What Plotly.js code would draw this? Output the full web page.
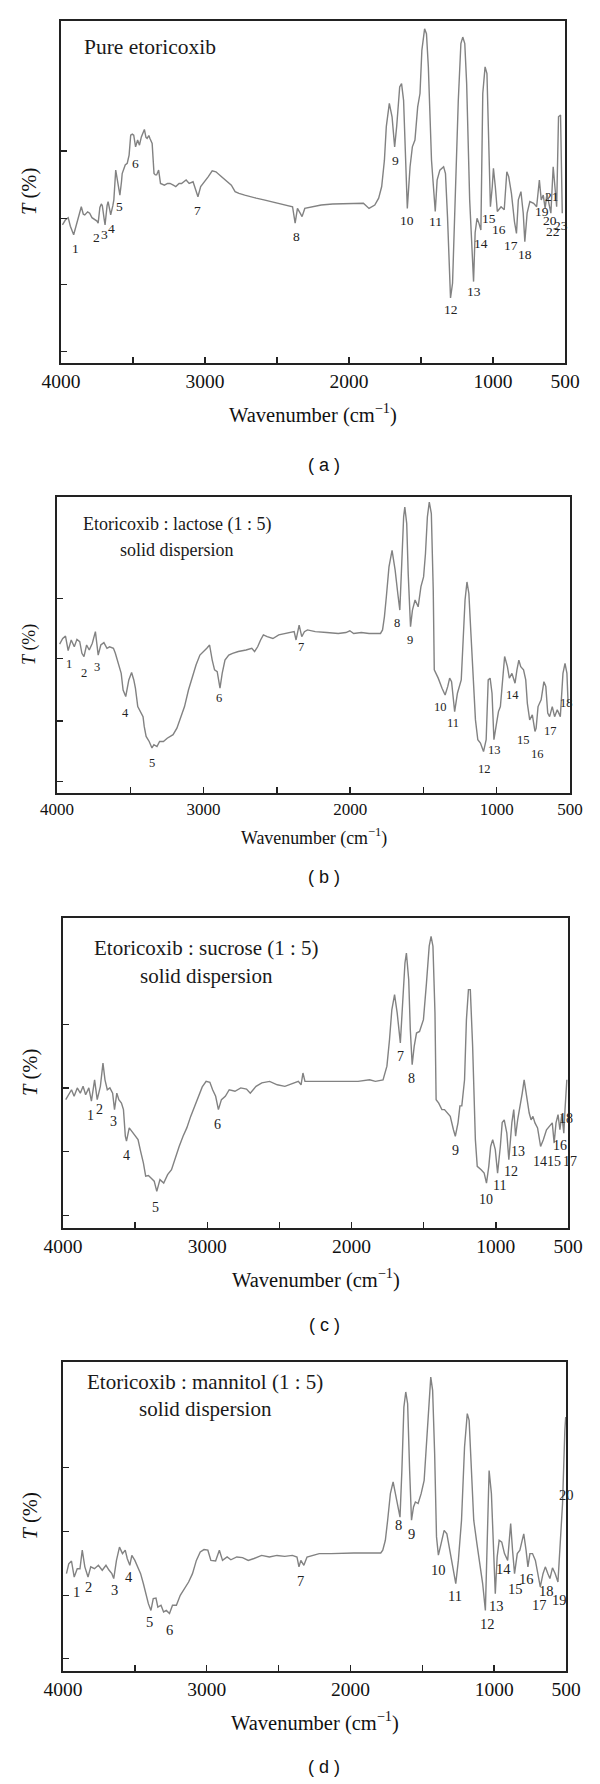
<!DOCTYPE html>
<html>
<head>
<meta charset="utf-8">
<script src="https://cdn.plot.ly/plotly-3.0.1.min.js"></script>
<style>
  body { margin: 0; background: #fff; }
  #chart { width: 600px; height: 1784px; }
</style>
</head>
<body>
<div id="chart"></div>
<script>
// ---- (a) pure etoricoxib ----
var waveA = [3990,3970,3950,3935,3912,3890,3870,3859,3845,3835,3815,3801,3785,3766,3750,3742,3730,3720,3713,3700,3694,3680,3673,3660,3655,3640,3633,3620,3610,3601,3591,3580,3575,3554,3540,3527,3516,3505,3495,3482,3468,3455,3442,3421,3410,3402,3390,3383,3367,3354,3345,3336,3322,3309,3282,3260,3243,3220,3203,3180,3163,3131,3110,3083,3062,3049,3030,3003,2977,2950,2924,2897,2857,2817,2791,2764,2724,2684,2645,2591,2538,2485,2432,2392,2374,2358,2339,2326,2307,2259,2193,2113,2033,1954,1900,1861,1821,1794,1773,1754,1741,1720,1701,1683,1669,1648,1635,1621,1608,1595,1576,1560,1542,1523,1507,1494,1475,1462,1449,1427,1417,1401,1388,1369,1343,1330,1316,1303,1295,1281,1263,1241,1223,1210,1196,1183,1162,1143,1135,1124,1111,1098,1084,1071,1055,1042,1029,1018,1005,997,984,970,944,922,904,891,872,851,837,824,806,790,779,763,744,718,697,678,665,651,638,625,612,598,582,572,558,545,531,519];
var transA = [40.4,41.8,42.5,40.0,37.5,41,44,45.7,43.5,43.3,44.2,43.8,42.5,41.8,41.5,40.9,45.5,46.5,46.0,42,40.4,46,47.2,44.5,43.3,46,47.7,56.4,53.5,52.0,49.1,53,55.4,57.9,58.4,60.8,66.6,66.9,66.6,63.2,65.2,63.7,66.1,68.3,66,65.7,66.5,65.7,64.2,55.4,55,55.0,56.4,52.5,52.0,52.5,52.5,52,51.6,52.5,52.5,53.5,52.5,53.0,50.6,48.6,51.6,53.0,54.5,56.2,55.9,54.9,53.5,52.0,50.1,49.6,49.1,48.6,48.2,47.7,47.2,46.7,46.2,45.7,40.9,45.2,43.8,42.8,45.2,45.7,46.2,46.5,46.5,46.5,46.7,45.2,46.2,48.2,51.6,59.3,69.1,75.9,72.0,63.2,69.1,80.7,81.7,76.8,59.3,45.2,57.4,63.2,65.2,74.9,78.8,91.4,97.7,96.3,86.6,59.3,53.5,44.3,53.5,56.4,57.4,55.4,42.8,25.3,19.0,23.3,47.7,76.8,93.4,95.3,93.4,81.7,47.7,30.2,23.8,38.1,42.3,40.9,38.9,78.8,86.6,84.6,62.3,45.7,51.6,56.9,51.6,44.3,45.7,44.8,55.9,54.5,49.6,41.3,37.9,47.7,50.1,43.8,35.5,43.8,47.2,46.7,45.7,53.5,47.7,49.1,45.2,49.6,46.7,43.8,57.4,51.6,45.7,72.0,72.5,43.8];
var peakWnA = [3902,3753,3700,3647,3591,3482,3049,2366,1680,1595,1396,1295,1130,1082,1029,957,877,776,657,604,590,580,526];
var peakTA = [33.6,36.8,37.5,39.4,45.7,58.4,44.7,37.0,59.3,41.8,41.3,15.6,20.9,35.0,42.3,39.1,34.3,31.6,44.3,41.8,48.8,38.4,40.3];

// ---- (b) etoricoxib : lactose ----
var waveB = [3982,3961,3942,3924,3903,3882,3864,3845,3830,3816,3798,3780,3759,3738,3719,3701,3680,3659,3641,3615,3602,3581,3562,3549,3531,3510,3491,3476,3465,3449,3431,3413,3405,3392,3371,3352,3339,3318,3300,3274,3248,3208,3182,3156,3130,3103,3077,3051,3025,2999,2978,2959,2951,2941,2925,2907,2888,2873,2854,2828,2802,2763,2710,2671,2652,2631,2611,2592,2566,2527,2487,2448,2409,2382,2369,2348,2330,2312,2291,2238,2160,2081,2029,2002,1976,1924,1871,1832,1793,1779,1766,1753,1735,1714,1693,1675,1661,1648,1635,1627,1614,1604,1588,1575,1557,1536,1517,1499,1486,1473,1460,1446,1433,1426,1412,1399,1373,1352,1334,1321,1308,1294,1287,1268,1242,1229,1216,1203,1190,1176,1158,1145,1129,1111,1090,1072,1058,1045,1032,1019,1001,988,975,961,946,927,914,896,875,862,849,836,817,802,791,775,757,739,731,718,697,678,665,652,639,621,605,587,566,548,534,521,513];
var transB = [50.3,52.2,53.0,48.1,51.7,49.4,51.9,51.1,47.2,46.1,50.0,48.3,50.6,54.5,46.6,50.0,50.8,48.9,49.4,48.9,47.2,43.8,40.4,34.8,32.6,38.2,40.7,38.2,35.4,29.2,27.5,25.8,22.5,19.1,17.4,15.2,16.3,15.7,17.4,17.4,18.5,19.7,21.9,25.3,29.2,34.8,39.3,43.3,46.6,47.8,48.9,50.0,47.2,44.9,41.6,41.0,35.4,40.4,44.9,46.6,47.2,47.8,48.3,48.9,47.8,49.4,51.7,53.4,52.8,52.2,53.4,53.9,54.2,54.5,51.7,56.7,52.8,54.5,55.1,54.5,54.2,53.9,54.2,54.8,53.9,54.2,53.9,53.9,53.9,55.1,59.6,66.3,76.4,82.0,75.3,67.4,61.8,77.5,93.3,96.6,91.0,74.2,56.2,61.8,65.2,62.9,69.7,73.0,80.9,93.3,98.3,94.4,68.5,41.6,40.4,38.8,35.4,33.1,36.0,38.8,37.6,29.2,27.5,33.7,38.2,51.7,65.2,71.3,67.4,53.9,38.2,24.7,18.0,16.9,14.0,18.0,38.2,38.8,33.7,18.0,23.6,27.5,29.2,38.2,46.1,42.7,38.8,40.4,37.1,41.6,44.9,42.7,41.6,38.2,30.3,24.7,26.4,20.8,21.9,29.2,31.5,37.6,36.0,27.0,25.8,29.2,25.8,28.1,25.8,40.4,43.8,40.4,30.3];
var peakWnB = [3916,3819,3725,3531,3352,2894,2335,1680,1591,1386,1300,1085,1014,893,815,723,634,526];
var peakTB = [43.6,40.7,42.5,27.0,10.1,32.0,49.2,57.5,51.7,29.2,23.8,8.2,14.6,33.1,18.0,13.1,20.8,30.3];

// ---- (c) etoricoxib : sucrose ----
var waveC = [3981,3960,3941,3923,3901,3880,3861,3843,3821,3803,3781,3763,3741,3723,3709,3693,3675,3656,3643,3627,3613,3595,3581,3568,3560,3541,3523,3502,3480,3462,3443,3427,3408,3390,3368,3350,3328,3302,3275,3248,3222,3195,3168,3142,3115,3088,3062,3035,3008,2982,2963,2942,2923,2902,2875,2848,2808,2768,2728,2702,2662,2622,2568,2515,2462,2408,2369,2350,2337,2323,2275,2195,2115,2035,1955,1875,1835,1782,1755,1737,1721,1702,1684,1662,1646,1630,1620,1604,1593,1580,1566,1550,1529,1502,1481,1462,1449,1436,1422,1414,1396,1374,1356,1337,1316,1294,1281,1262,1249,1236,1217,1204,1190,1177,1161,1142,1129,1102,1081,1065,1049,1036,1022,1004,988,969,956,942,924,910,889,876,863,849,831,817,804,788,769,756,743,729,711,690,671,649,628,609,596,583,569,556,543,529,521,508];
var transC = [41.4,43.0,44.6,42.5,45.2,43.5,45.7,43.0,45.2,40.9,47.8,41.4,45.7,53.2,47.8,44.6,45.2,43.5,38.2,43.5,41.4,40.3,38.2,29.6,28.0,32.3,31.2,29.6,28.5,24.7,21.0,16.7,16.9,16.1,15.1,11.8,15.6,14.5,17.2,18.8,22.6,26.3,29.6,32.3,36.0,39.2,42.5,45.5,47.3,47.0,44.6,42.5,38.2,41.4,42.5,44.6,44.1,45.2,44.8,43.5,45.7,46.8,47.3,46.2,45.7,46.6,47.3,46.2,50.0,47.3,47.3,47.3,47.3,47.3,47.3,47.8,47.3,47.8,52.2,60.8,70.4,75.3,69.4,59.7,71.5,85.5,88.7,80.1,64.0,52.7,58.6,62.9,63.4,67.2,79.0,90.9,94.1,90.9,69.4,41.4,40.3,38.2,38.2,37.1,36.0,31.7,29.6,34.0,39.4,39.4,47.8,67.2,76.9,76.9,58.6,28.5,19.9,18.8,17.7,14.5,19.9,26.3,28.5,25.3,17.7,26.3,34.0,34.9,30.6,22.0,34.0,38.2,29.6,34.9,39.2,43.5,47.8,42.5,37.1,34.9,36.0,33.9,32.3,26.3,28.5,31.7,32.8,33.9,27.4,33.9,36.6,31.7,36.6,30.6,38.0,47.8];
var peakWnC = [3808,3747,3653,3563,3360,2926,1662,1585,1281,1068,975,898,849,694,596,556,489,516];
var peakTC = [36.2,38.2,34.4,23.3,6.5,33.5,55.4,48.2,25.1,9.1,13.8,18.2,24.7,21.5,21.5,26.7,21.5,35.2];

// ---- (d) etoricoxib : mannitol ----
var waveD = [3976,3960,3941,3922,3901,3882,3866,3848,3826,3807,3781,3754,3727,3701,3679,3660,3647,3628,3607,3586,3567,3553,3535,3521,3500,3479,3460,3441,3425,3406,3388,3372,3353,3340,3318,3300,3281,3259,3238,3211,3184,3158,3126,3099,3072,3045,3019,2992,2971,2938,2912,2890,2858,2832,2791,2751,2711,2671,2618,2564,2511,2457,2404,2372,2358,2345,2324,2302,2270,2217,2136,2056,1976,1896,1829,1789,1775,1757,1741,1722,1703,1687,1668,1655,1642,1628,1615,1602,1588,1575,1561,1548,1529,1508,1487,1468,1452,1441,1428,1414,1401,1388,1369,1348,1329,1307,1286,1267,1249,1227,1206,1187,1174,1158,1142,1120,1102,1080,1061,1045,1035,1019,1005,992,979,965,947,928,906,893,885,872,858,839,821,805,794,778,765,751,733,713,698,679,660,644,626,612,594,575,556,543,524,508,502];
var transD = [31.5,34.7,35.6,30.4,33.1,33.1,39.1,33.7,30.4,33.7,33.1,34.2,32.6,34.2,32.6,31.5,29.9,35.8,40.1,38.0,39.1,36.4,34.2,37.4,35.8,33.7,31.5,28.3,25.0,21.8,19.6,23.4,23.6,20.7,21.3,19.1,19.6,18.6,21.3,21.3,24.5,26.6,28.8,31.5,35.8,38.5,39.3,39.1,35.8,35.6,39.1,35.8,36.9,36.0,36.9,36.7,35.8,36.4,37.4,36.9,37.4,37.1,37.4,36.9,33.7,35.8,34.2,36.9,37.4,38.0,38.0,38.2,38.2,38.2,38.2,38.2,39.1,42.3,48.8,57.4,61.2,57.4,53.1,49.8,64.9,85.4,90.3,86.5,64.9,48.8,53.1,54.7,54.2,57.4,61.7,74.6,88.7,95.1,90.8,70.3,43.4,37.5,41.2,45.5,44.4,39.1,33.7,28.3,35.8,48.8,72.5,83.3,81.1,64.9,48.8,41.2,35.8,28.3,19.6,46.6,64.9,57.4,39.1,25.0,36.9,42.3,41.7,38.0,35.8,44.4,47.7,39.1,31.5,38.0,39.1,42.3,44.4,39.1,33.7,38.0,38.0,35.8,31.5,27.2,31.5,33.7,31.5,29.9,33.4,31.5,28.8,38.0,54.2,77.9,82.2];
var peakWnD = [3909,3826,3642,3540,3398,3259,2345,1666,1572,1388,1273,1048,987,933,853,778,684,634,543,500];
var peakTD = [25.6,27.2,26.1,30.4,15.9,13.4,29.1,47.1,44.4,32.6,24.2,15.1,20.9,32.9,26.6,29.9,21.5,25.9,23.1,56.9];

var xTickVals = [4000, 3000, 2000, 1000, 500];
var xMinorVals = [3500, 2500, 1500];

var W = 600, H = 1784;
var SERIF = 'Liberation Serif, Times New Roman, serif';

// box = [left, top, right, bottom] in page pixels
var panels = [
  {wave: waveA, trans: transA, pwn: peakWnA, pt: peakTA, box: [61, 21, 565, 363],
   yticks: [3.4, 22.9, 42.3, 62.0], tick: 19.5, num: 13.5, caption: '( a )', capY: 465,
   lines: [{t: 'Pure etoricoxib', x: 3854, y: 92.4, anchor: 'left'}], textSize: 21.5},
  {wave: waveB, trans: transB, pwn: peakWnB, pt: peakTB, box: [57, 497, 570, 793],
   yticks: [3.9, 24.4, 45.5, 65.7], tick: 17, num: 12.5, caption: '( b )', capY: 877,
   lines: [{t: 'Etoricoxib : lactose (1 : 5)', x: 3182, y: 90.7, anchor: 'center'},
           {t: 'solid dispersion', x: 3182, y: 82.0, anchor: 'center'}], textSize: 18},
  {wave: waveC, trans: transC, pwn: peakWnC, pt: peakTC, box: [63, 918, 568, 1228],
   yticks: [4.0, 24.7, 45.2, 65.6], tick: 19.5, num: 14, caption: '( c )', capY: 1325,
   lines: [{t: 'Etoricoxib : sucrose (1 : 5)', x: 3003, y: 90.3, anchor: 'center'},
           {t: 'solid dispersion', x: 3003, y: 81.2, anchor: 'center'}], textSize: 21},
  {wave: waveD, trans: transD, pwn: peakWnD, pt: peakTD, box: [63, 1362, 566, 1671],
   yticks: [4.0, 24.5, 45.2, 65.8], tick: 19.5, num: 14.5, caption: '( d )', capY: 1767,
   lines: [{t: 'Etoricoxib : mannitol (1 : 5)', x: 3011, y: 93.5, anchor: 'center'},
           {t: 'solid dispersion', x: 3011, y: 84.9, anchor: 'center'}], textSize: 21}
];

var data = [];
var annotations = [];
var layout = {
  width: W, height: H,
  margin: {l: 0, r: 0, t: 0, b: 0},
  paper_bgcolor: '#fff', plot_bgcolor: '#fff',
  showlegend: false,
  font: {family: SERIF, color: '#111'}
};

panels.forEach(function (p, i) {
  var n = i ? String(i + 1) : '';
  var l = p.box[0], t = p.box[1], r = p.box[2], b = p.box[3];

  data.push({
    x: p.wave, y: p.trans, xaxis: 'x' + n, yaxis: 'y' + n,
    type: 'scatter', mode: 'lines', hoverinfo: 'skip',
    line: {color: '#828282', width: 1.4}
  });

  layout['xaxis' + n] = {
    domain: [l / W, r / W], anchor: 'y' + n, range: [4000, 500],
    tickmode: 'array', tickvals: xTickVals, ticks: 'inside', ticklen: 6,
    tickwidth: 1.5, tickcolor: '#222', showline: true, linecolor: '#222',
    linewidth: 1.6, mirror: true, showgrid: false, zeroline: false,
    minor: {tickmode: 'array', tickvals: xMinorVals, ticks: 'inside', ticklen: 6,
            tickwidth: 1.5, tickcolor: '#222', showgrid: false},
    tickfont: {family: SERIF, size: p.tick, color: '#111'}
  };
  layout['yaxis' + n] = {
    domain: [1 - b / H, 1 - t / H], anchor: 'x' + n, range: [0, 100],
    tickmode: 'array', tickvals: p.yticks, showticklabels: false, ticks: 'inside', ticklen: 6,
    tickwidth: 1.5, tickcolor: '#222', showline: true, linecolor: '#222',
    linewidth: 1.6, mirror: true, showgrid: false, zeroline: false
  };

  // band numbers
  var pxPerWn = (r - l) / 3500;
  p.pwn.forEach(function (wn, k) {
    var shift = 0, xv = wn;
    if (wn < 500) { shift = (500 - wn) * pxPerWn; xv = 500; }
    annotations.push({
      xref: 'x' + n, yref: 'y' + n, x: xv, y: p.pt[k], xshift: shift,
      text: String(k + 1), showarrow: false, xanchor: 'center', yanchor: 'middle',
      font: {family: SERIF, size: p.num, color: '#222'}
    });
  });

  // sample name
  p.lines.forEach(function (ln) {
    annotations.push({
      xref: 'x' + n, yref: 'y' + n, x: ln.x, y: ln.y, text: ln.t,
      showarrow: false, xanchor: ln.anchor, yanchor: 'middle',
      font: {family: SERIF, size: p.textSize, color: '#1a1a1a'}
    });
  });

  var scale = p.tick / 19.5;
  // axis titles and caption
  annotations.push({
    xref: 'paper', yref: 'paper', x: (l + r) / 2 / W, y: 1 - (b + 50 * scale) / H,
    text: 'Wavenumber (cm<sup>\u22121</sup>)', showarrow: false,
    xanchor: 'center', yanchor: 'middle',
    font: {family: SERIF, size: 20.5 * scale, color: '#111'}
  });
  annotations.push({
    xref: 'paper', yref: 'paper', x: 30 / W, y: 1 - (t + b) / 2 / H,
    text: '<i>T</i> (%)', showarrow: false, textangle: -90,
    xanchor: 'center', yanchor: 'middle',
    font: {family: SERIF, size: 20.5 * scale, color: '#111'}
  });
  annotations.push({
    xref: 'paper', yref: 'paper', x: 324 / W, y: 1 - p.capY / H,
    text: p.caption, showarrow: false, xanchor: 'center', yanchor: 'middle',
    font: {family: 'Liberation Sans, Arial, sans-serif', size: 18, color: '#111'}
  });
});

layout.annotations = annotations;

Plotly.newPlot('chart', data, layout, {displayModeBar: false, staticPlot: true});
</script>
</body>
</html>
